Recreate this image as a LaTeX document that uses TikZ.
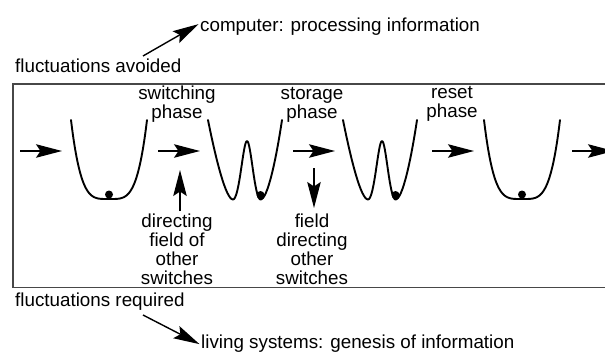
\documentclass[tikz,border=0pt]{standalone}
\usepackage{fontspec}
\setmainfont{Liberation Sans}
\usetikzlibrary{arrows.meta}
\begin{document}
\begin{tikzpicture}[x=1pt,y=-1pt,
  lbl/.style={inner sep=0pt, font=\fontsize{18.8}{18.3}\selectfont},
  arr/.style={line width=1.4pt, -{Stealth[length=26pt,width=13.5pt,inset=4.5pt]}},
  well/.style={line width=1.9pt, line cap=round, line join=round},
  ball/.style={fill=black},
  frame/.style={line width=1.5pt, draw=black!72},
  swell/.pic={
    \draw[well] plot[domain=-1:1, samples=80, smooth] ({38*\x}, {199-79*\x*\x*\x*\x});
    \fill[ball] (0,194.5) circle (4);
  },
  dwell/.pic={
    \draw[well] (208,120) .. controls (216,160) and (226,199.5) .. (233,199.5)
      .. controls (239.5,199.5) and (243,141) .. (247,141)
      .. controls (251,141) and (254.5,199.5) .. (260.5,199.5)
      .. controls (267.5,199.5) and (276,160) .. (282,120);
    \fill[ball] (260.5,195) circle (4);
  }]
\useasboundingbox (0,0) rectangle (605,356);
\clip (0,0) rectangle (605,356);

% frame (open to the right)
\draw[frame] (615,84) -- (13,84) -- (13,287.5) -- (615,287.5);

% outer labels
\node[lbl, anchor=base west] (comp) at (200,31) {computer: processing information};
\node[lbl, anchor=base west] (avoid) at (15,72) {fluctuations avoided};
\node[lbl, anchor=base west] (req) at (15,306.5) {fluctuations required};
\node[lbl, anchor=base west] (living) at (201,348) {living systems: genesis of information};

\coordinate (ta) at (143,56);
\coordinate (tb) at (143,315);
\draw[arr] (ta) -- ([xshift=-1.5pt,yshift=2pt]comp.west);
\draw[arr] (tb) -- ([xshift=-1.5pt,yshift=-1pt]living.west);

% phase labels
\node[lbl, anchor=base] (sw) at (177,99.5) {\begin{tabular}[t]{@{}c@{}}switching\\phase\end{tabular}};
\node[lbl, anchor=base] (st) at (312,99) {\begin{tabular}[t]{@{}c@{}}storage\\phase\end{tabular}};
\node[lbl, anchor=base] (rs) at (452,98.5) {\begin{tabular}[t]{@{}c@{}}reset\\phase\end{tabular}};
\node[lbl, anchor=base] (dir) at (177,227) {\begin{tabular}[t]{@{}c@{}}directing\\field of\\other\\switches\end{tabular}};
\node[lbl, anchor=base] (fld) at (312,227) {\begin{tabular}[t]{@{}c@{}}field\\directing\\other\\switches\end{tabular}};

% wells
\pic at (109,0) {swell};
\pic at (0,0) {dwell};
\pic at (135,0) {dwell};
\pic at (522,0) {swell};

% horizontal process arrows
\coordinate (h1s) at (20,151);  \coordinate (h1e) at (62,151);
\coordinate (h2s) at (158,151); \coordinate (h2e) at (200,151);
\coordinate (h3s) at (293,151); \coordinate (h3e) at (335,151);
\coordinate (h4s) at (432,151); \coordinate (h4e) at (474,151);
\coordinate (h5s) at (572,151); \coordinate (h5e) at (614,151);
\draw[arr] (h1s) -- (h1e);
\draw[arr] (h2s) -- (h2e);
\draw[arr] (h3s) -- (h3e);
\draw[arr] (h4s) -- (h4e);
\draw[arr] (h5s) -- (h5e);

% field arrows
\coordinate (up) at (180,170);
\coordinate (dn) at (314,208);
\draw[arr] (180,211) -- (up);
\draw[arr] (314,168) -- (dn);
\end{tikzpicture}
\end{document}
